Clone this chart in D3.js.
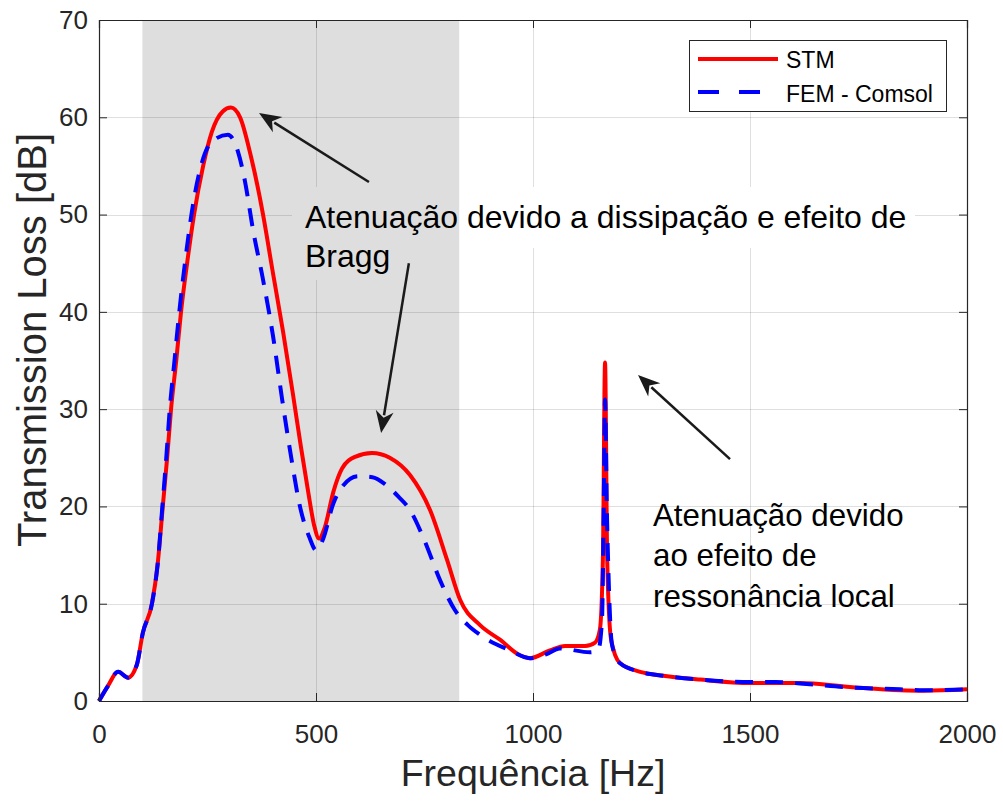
<!DOCTYPE html>
<html><head><meta charset="utf-8">
<script src="https://cdn.jsdelivr.net/npm/d3@7"></script>
<style>
html,body{margin:0;padding:0;background:#fff;}
svg{display:block;font-family:"Liberation Sans",Arial,Helvetica,sans-serif;}
</style></head>
<body>
<svg id="chart" width="1003" height="801"></svg>
<script>
// ---- data ----
const stmFreq = [0,20,44,67,87,101,122,135,147,157,166,178,189,203,219,240,260,285,304,325,350,378,400,424,447,465,482,496,507,520,540,560,590,629,670,717,763,802,832,878,924,970,993,1039,1074,1120,1143,1154,1161,1166,1171,1180,1200,1247,1300,1385,1500,1615,1730,1846,1900,2000];
const stmTL   = [0,1.5,3.0,2.4,3.7,7.0,10.0,14,20,25,30,35,40,45,50,55,58.5,60.6,61.0,60.0,56.0,50,44.2,38,31.5,26.2,21.5,18,16.7,17.8,21.5,23.9,25.1,25.5,25.0,23.2,19.6,14.5,10.4,7.8,6.3,4.7,4.4,5.2,5.65,5.65,6.0,7.3,14.5,34.8,14.5,6.3,3.9,3.0,2.6,2.2,1.85,1.85,1.45,1.1,1.05,1.2];
const femFreq = [0,20,44,67,87,101,122,135,146,155,163,174,185,198,213,235,260,297,320,336,355,378,401,422,443,463,485,500,515,540,560,597,630,659,690,717,750,786,820,850,878,947,993,1030,1062,1131,1150,1159,1163,1166,1170,1173,1182,1200,1247,1300,1385,1500,1560,1615,1730,1846,1900,2000];
const femTL   = [0,1.5,3.0,2.4,3.7,7.0,10.0,14,20,25,30,35,40,45,50,55,57.5,58.2,56.5,53.5,48.4,43.3,37.5,31,25,20,16.8,15.5,16.5,20.3,22.0,23.1,23.0,22.3,21.0,19.6,16.5,12.4,9.35,7.8,6.8,5.2,4.4,4.8,5.4,5.0,5.2,8.3,20,31,20,14.5,5.8,3.9,3.0,2.6,2.2,1.95,1.95,1.8,1.4,1.2,1.1,1.2];
const seriesNames = ["STM","FEM - Comsol"];
const xTicks = [0,500,1000,1500,2000];
const yTicks = [0,10,20,30,40,50,60,70];
const shadeRange = [100,830];
const xLabel = "Frequência [Hz]";
const yLabel = "Transmission Loss [dB]";
const note1 = ["Atenuação devido a dissipação e efeito de","Bragg"];
const note1Pos = [474.7,48.6];
const note2 = ["Atenuação devido","ao efeito de","ressonância local"];
const note2Pos = [1276.5,18.0];
const arrows = [ // [tailX, tailY, tipX, tipY] in data units
  [622,53.35,368.7,60.44],
  [714,45.0,650,27.55],
  [1454,24.87,1242,33.5]
];

// ---- layout ----
const svg = d3.select("#chart");
const L=99,R=967,T=20,B=701;
const x = d3.scaleLinear().domain([0,2000]).range([L,R]);
const y = d3.scaleLinear().domain([0,70]).range([B,T]);
const axisCol = "#262626";

// shade
svg.append("rect").attr("x",x(shadeRange[0])).attr("y",T)
  .attr("width",x(shadeRange[1])-x(shadeRange[0])).attr("height",B-T)
  .attr("fill","#dedede");

// grid mask (first annotation hides grid)
const defs = svg.append("defs");
const mask = defs.append("mask").attr("id","gridmask").attr("maskUnits","userSpaceOnUse")
  .attr("x",0).attr("y",0).attr("width",1003).attr("height",801);
mask.append("rect").attr("x",0).attr("y",0).attr("width",1003).attr("height",801).attr("fill","#fff");
mask.append("rect").attr("x",292).attr("y",187).attr("width",623).attr("height",61).attr("fill","#000");
mask.append("rect").attr("x",292).attr("y",248).attr("width",103).attr("height",32).attr("fill","#000");

const grid = svg.append("g").attr("mask","url(#gridmask)")
  .attr("stroke","#262626").attr("stroke-opacity",0.15).attr("stroke-width",1);
xTicks.slice(1,-1).forEach(t=>grid.append("line").attr("x1",Math.round(x(t))+0.5).attr("x2",Math.round(x(t))+0.5).attr("y1",T).attr("y2",B));
yTicks.slice(1,-1).forEach(t=>grid.append("line").attr("y1",Math.round(y(t))+0.5).attr("y2",Math.round(y(t))+0.5).attr("x1",L).attr("x2",R));

// lines
const line = d3.line().curve(d3.curveMonotoneX);
const stmPts = stmFreq.map((f,i)=>[x(f),y(stmTL[i])]);
const femPts = femFreq.map((f,i)=>[x(f),y(femTL[i])]);
svg.append("path").attr("d",line(stmPts)).attr("fill","none").attr("stroke","#ff0000").attr("stroke-width",4).attr("stroke-linejoin","round");
svg.append("path").attr("d",line(femPts)).attr("fill","none").attr("stroke","#0000ff").attr("stroke-width",4).attr("stroke-dasharray","18,12");

// axes
const gx = svg.append("g").attr("transform",`translate(0,${B})`)
  .call(d3.axisBottom(x).tickValues(xTicks).tickSize(-8).tickPadding(24).tickFormat(d3.format("d")));
const gxTop = svg.append("g").attr("transform",`translate(0,${T})`)
  .call(d3.axisTop(x).tickValues(xTicks).tickSize(-8).tickFormat(""));
const gy = svg.append("g").attr("transform",`translate(${L},0)`)
  .call(d3.axisLeft(y).tickValues(yTicks).tickSize(-8).tickPadding(11).tickFormat(d3.format("d")));
const gyR = svg.append("g").attr("transform",`translate(${R},0)`)
  .call(d3.axisRight(y).tickValues(yTicks).tickSize(-8).tickFormat(""));
[gx,gxTop,gy,gyR].forEach(g=>{
  g.select(".domain").attr("stroke",axisCol).attr("stroke-width",1.2);
  g.selectAll(".tick line").attr("stroke",axisCol).attr("stroke-width",1);
  g.selectAll("text").attr("fill",axisCol).attr("font-size",26).attr("font-family","Liberation Sans,Arial,sans-serif");
});

// axis labels
svg.append("text").attr("x",(L+R)/2).attr("y",786).attr("text-anchor","middle")
  .attr("font-size",37.5).attr("fill",axisCol).text(xLabel);
svg.append("text").attr("transform",`translate(46,340) rotate(-90)`).attr("text-anchor","middle")
  .attr("font-size",40).attr("fill",axisCol).text(yLabel);

// annotations
function multi(lines,pos,lh,fs){
  const t = svg.append("text").attr("x",x(pos[0])).attr("y",y(pos[1])).attr("font-size",fs).attr("fill","#000");
  lines.forEach((s,i)=>t.append("tspan").attr("x",x(pos[0])).attr("dy",i?lh:0).text(s));
}
multi(note1,note1Pos,39,32);
multi(note2,note2Pos,40.5,31.3);

arrows.forEach(a=>{
  const x1=x(a[0]),y1=y(a[1]),x2=x(a[2]),y2=y(a[3]);
  const ang=Math.atan2(y2-y1,x2-x1), hl=22, hw=9;
  const bx=x2-hl*Math.cos(ang), by=y2-hl*Math.sin(ang);
  svg.append("line").attr("x1",x1).attr("y1",y1).attr("x2",bx+4*Math.cos(ang)).attr("y2",by+4*Math.sin(ang))
    .attr("stroke","#1a1a1a").attr("stroke-width",2.5);
  const px=-Math.sin(ang), py=Math.cos(ang);
  const bb=x2-(hl*0.7)*Math.cos(ang), bby=y2-(hl*0.7)*Math.sin(ang);
  svg.append("path").attr("d",`M${x2},${y2}L${bx+hw*px},${by+hw*py}L${bb},${bby}L${bx-hw*px},${by-hw*py}Z`).attr("fill","#1a1a1a");
});

// legend
const lg = svg.append("g");
lg.append("rect").attr("x",689.5).attr("y",40.5).attr("width",257).attr("height",71).attr("fill","#fff").attr("stroke",axisCol).attr("stroke-width",1);
lg.append("line").attr("x1",698).attr("x2",778).attr("y1",59).attr("y2",59).attr("stroke","#ff0000").attr("stroke-width",4);
lg.append("line").attr("x1",698).attr("x2",778).attr("y1",92).attr("y2",92).attr("stroke","#0000ff").attr("stroke-width",4).attr("stroke-dasharray","21,20");
lg.append("text").attr("x",786).attr("y",68).attr("font-size",23).attr("fill","#000").text(seriesNames[0]);
lg.append("text").attr("x",786).attr("y",101.5).attr("font-size",23).attr("fill","#000").text(seriesNames[1]);
</script>
</body></html>
